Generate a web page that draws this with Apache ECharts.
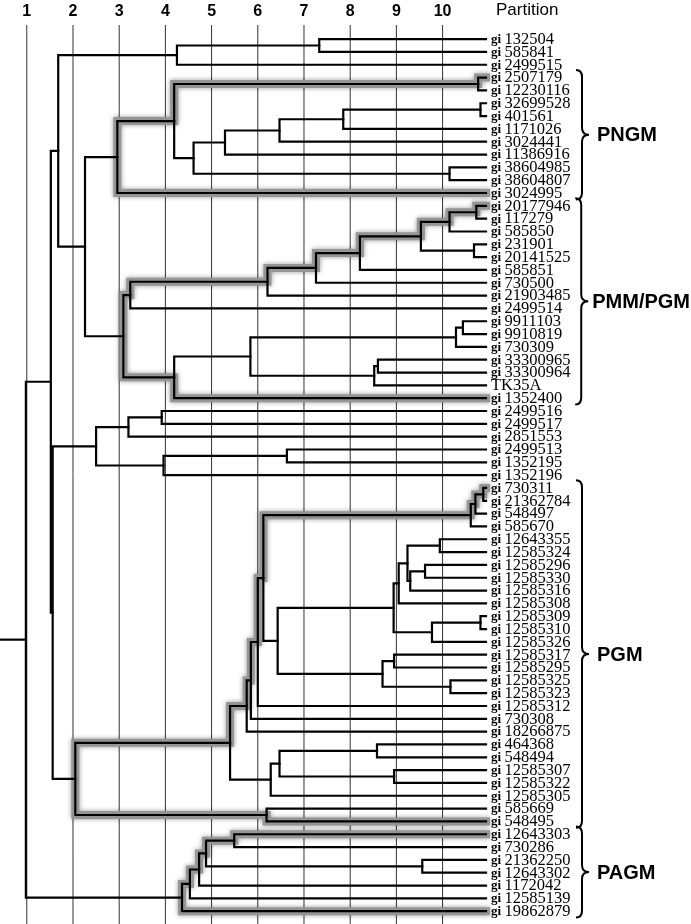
<!DOCTYPE html>
<html><head><meta charset="utf-8">
<script src="https://cdn.jsdelivr.net/npm/echarts@6/dist/echarts.min.js"></script>
<style>html,body{margin:0;padding:0;background:#fff}#c{width:691px;height:924px}</style>
</head><body><div id="c"></div>
<script>
// ---------- DATA ----------
const leafLabels = ['gi 132504','gi 585841','gi 2499515','gi 2507179','gi 12230116','gi 32699528','gi 401561','gi 1171026','gi 3024441','gi 11386916','gi 38604985','gi 38604807','gi 3024995','gi 20177946','gi 117279','gi 585850','gi 231901','gi 20141525','gi 585851','gi 730500','gi 21903485','gi 2499514','gi 9911103','gi 9910819','gi 730309','gi 33300965','gi 33300964','TK35A','gi 1352400','gi 2499516','gi 2499517','gi 2851553','gi 2499513','gi 1352195','gi 1352196','gi 730311','gi 21362784','gi 548497','gi 585670','gi 12643355','gi 12585324','gi 12585296','gi 12585330','gi 12585316','gi 12585308','gi 12585309','gi 12585310','gi 12585326','gi 12585317','gi 12585295','gi 12585325','gi 12585323','gi 12585312','gi 730308','gi 18266875','gi 464368','gi 548494','gi 12585307','gi 12585322','gi 12585305','gi 585669','gi 548495','gi 12643303','gi 730286','gi 21362250','gi 12643302','gi 1172042','gi 12585139','gi 19862879'];
// merges: [childA, childB, partition level]; leaves are 0..68, merge k creates node 69+k
const merges = [
 [0,1,7.33],[69,2,4.25],[3,4,10.77],[5,6,10.82],[72,7,7.85],[73,8,6.47],[74,9,5.29],[10,11,10.15],[75,76,4.61],[71,77,4.19],[78,12,2.96],
 [13,14,10.73],[80,15,10.15],[16,17,10.68],[81,82,9.53],[83,18,8.21],[84,19,7.26],[85,20,6.21],[86,21,3.24],[22,23,10.44],[88,24,10.29],[25,26,8.60],[90,27,8.52],[89,91,5.84],[92,28,4.19],[87,93,3.09],
 [79,94,2.26],[70,95,1.68],
 [29,30,3.92],[97,31,3.20],[32,33,6.63],[99,34,3.96],[98,100,2.50],
 [35,36,10.88],[102,37,10.71],[103,38,10.61],[39,40,9.94],[41,42,9.62],[106,43,9.30],[105,107,9.24],[108,44,9.05],[45,46,10.82],[110,47,9.77],[109,111,8.94],[48,49,8.95],[50,51,10.17],[113,114,8.70],[112,115,6.43],[104,116,6.12],[117,52,6.00],[118,53,5.85],[119,54,5.76],[55,56,8.58],[57,58,8.95],[121,122,6.47],[123,59,6.28],[120,124,5.40],[60,61,6.19],[125,126,2.05],
 [101,127,1.56],[96,128,1.52],
 [62,63,5.49],[64,65,9.56],[130,131,4.88],[132,66,4.73],[133,67,4.53],[134,68,4.36],
 [129,135,0.98]
];
const partitions = [1,2,3,4,5,6,7,8,9,10];
const partitionLabels = ['1','2','3','4','5','6','7','8','9','10'];
const highlightPairs = [[3,12],[13,28],[35,61],[62,68]];
const groupNames = ['PNGM','PMM/PGM','PGM','PAGM'];
const groupFirst = [3,13,35,62];
const groupLast = [12,28,61,68];
const LEAF_END = 10.94;
const X_MIN = 0.42, X_MAX = 15.377, Y_MIN = -1.1, Y_MAX = 69;

// ---------- TREE GEOMETRY ----------
const N = leafLabels.length;
const xs = [], ys = [], parent = [];
for (let i = 0; i < N; i++) { xs[i] = LEAF_END; ys[i] = i; }
merges.forEach((m, k) => { const id = N + k; xs[id] = m[2]; ys[id] = (ys[m[0]] + ys[m[1]]) / 2; parent[m[0]] = id; parent[m[1]] = id; });
const rootId = N + merges.length - 1;
const treePolys = merges.map((m, k) => { const id = N + k; return [[xs[m[0]], ys[m[0]]], [xs[id], ys[m[0]]], [xs[id], ys[m[1]]], [xs[m[1]], ys[m[1]]]]; });
treePolys.push([[X_MIN, ys[rootId]], [xs[rootId], ys[rootId]]]);

function ancestors(n) { const a = [n]; while (parent[n] !== undefined) { n = parent[n]; a.push(n); } return a; }
function climb(leaf, m) {
  const pts = [[xs[leaf], ys[leaf]]]; let n = leaf;
  while (parent[n] !== m) { const p = parent[n]; pts.push([xs[p], ys[n]]); pts.push([xs[p], ys[p]]); n = p; }
  pts.push([xs[m], ys[n]]); return pts;
}
const hlPolys = highlightPairs.map(([a, b]) => {
  const B = new Set(ancestors(b)); const m = ancestors(a).find(n => B.has(n));
  return climb(a, m).concat(climb(b, m).reverse());
});

function polyRender(polys, style) {
  return function (params, api) {
    const pts = polys[params.dataIndex].map(p => api.coord(p));
    return { type: 'polyline', silent: true, shape: { points: pts }, style: Object.assign({ fill: null }, style) };
  };
}
const mctx = document.createElement('canvas').getContext('2d');
function textW(t, font) { mctx.font = font; return mctx.measureText(t).width; }
const GROUP_FONT = 'bold 20px "Liberation Sans", Arial, sans-serif';

const chart = echarts.init(document.getElementById('c'), null, { renderer: 'canvas' });
chart.setOption({
  animation: false,
  backgroundColor: '#fff',
  grid: { left: 0, right: 0, top: 25, bottom: 0 },
  xAxis: { type: 'value', min: X_MIN, max: X_MAX, show: false },
  yAxis: { type: 'value', inverse: true, min: Y_MIN, max: Y_MAX, show: false },
  graphic: [{ type: 'text', left: 496, top: 2, style: { text: 'Partition', font: '17px "Liberation Sans", Arial, sans-serif', fill: '#000' } }],
  series: [
    { type: 'custom', clip: false, z: 1, data: partitions.map(p => [p, Y_MIN]),
      renderItem: function (params, api) {
        const p = partitions[params.dataIndex];
        const a = api.coord([p, Y_MIN]), b = api.coord([p, Y_MAX]);
        return { type: 'group', children: [
          { type: 'line', shape: { x1: a[0], y1: a[1], x2: b[0], y2: b[1] }, style: { stroke: '#333', lineWidth: 1 } },
          { type: 'text', style: { text: partitionLabels[params.dataIndex], x: a[0], y: 12, align: 'center', verticalAlign: 'middle', font: 'bold 16px "Liberation Sans", Arial, sans-serif', fill: '#000' } }
        ] };
      } },
    { type: 'custom', clip: false, z: 2, data: hlPolys.map((p, i) => [p[0][0], p[0][1], i]),
      renderItem: polyRender(hlPolys, { stroke: '#959595', lineWidth: 8, lineJoin: 'miter', lineCap: 'square', shadowBlur: 5, shadowColor: 'rgba(0,0,0,0.4)' }) },
    { type: 'custom', clip: false, z: 3, data: treePolys.map((p, i) => [p[0][0], p[0][1], i]),
      renderItem: polyRender(treePolys, { stroke: '#000', lineWidth: 2.2, lineJoin: 'miter', lineCap: 'square' }) },
    { type: 'custom', clip: false, z: 4, data: leafLabels.map((l, i) => [LEAF_END, i]),
      renderItem: function (params, api) {
        const i = params.dataIndex; const c = api.coord([LEAF_END, i]);
        const lab = leafLabels[i];
        const txt = lab.startsWith('gi ') ? '{g|gi} {n|' + lab.slice(3) + '}' : '{n|' + lab + '}';
        return { type: 'text', silent: true, style: { text: txt, x: c[0] + 5, y: c[1] + 0.5, verticalAlign: 'middle', align: 'left',
          rich: { g: { font: 'bold 13px "Liberation Serif", "Times New Roman", serif', fill: '#000' }, n: { font: '16.5px "Liberation Serif", "Times New Roman", serif', fill: '#000' } } } };
      } },
    { type: 'custom', clip: false, z: 4, data: groupFirst.map((f, i) => [LEAF_END, f, groupLast[i]]),
      renderItem: function (params, api) {
        const i = params.dataIndex;
        const top = api.coord([LEAF_END, groupFirst[i] - 0.6])[1];
        const bot = api.coord([LEAF_END, groupLast[i] + 0.5])[1];
        const mid = (top + bot) / 2;
        const w = textW(groupNames[i], GROUP_FONT);
        const lx = Math.min(597, 690 - w);
        const tip = Math.min(589, lx - 4), stem = tip - 7, end = stem - 6, r = 7;
        const d = 'M' + end + ',' + top + ' Q' + stem + ',' + top + ' ' + stem + ',' + (top + r) +
          ' L' + stem + ',' + (mid - r) + ' Q' + stem + ',' + mid + ' ' + tip + ',' + mid +
          ' Q' + stem + ',' + mid + ' ' + stem + ',' + (mid + r) + ' L' + stem + ',' + (bot - r) +
          ' Q' + stem + ',' + bot + ' ' + end + ',' + bot;
        return { type: 'group', children: [
          { type: 'path', shape: { pathData: d }, style: { fill: null, stroke: '#000', lineWidth: 2 } },
          { type: 'text', style: { text: groupNames[i], x: lx, y: mid + 1, verticalAlign: 'middle', align: 'left', font: GROUP_FONT, fill: '#000' } }
        ] };
      } }
  ]
});
</script></body></html>
